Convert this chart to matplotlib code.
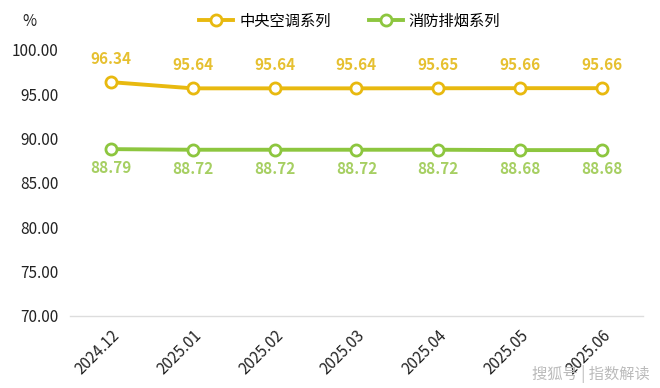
import matplotlib
matplotlib.use("Agg")
from matplotlib import pyplot as plt
import numpy as np

plt.rcParams['font.family'] = ['Noto Sans CJK SC', 'DejaVu Sans']

months = ["2024.12", "2025.01", "2025.02", "2025.03", "2025.04", "2025.05", "2025.06"]
hvac = [96.34, 95.64, 95.64, 95.64, 95.65, 95.66, 95.66]
smoke = [88.79, 88.72, 88.72, 88.72, 88.72, 88.68, 88.68]
names = ["中央空调系列", "消防排烟系列"]

orange = "#E8B90F"
green = "#8DC63F"

fig = plt.figure(figsize=(6.6, 3.88), dpi=100)
ax = fig.add_axes([0.106, 0.186, 0.868, 0.686])

x = np.arange(len(months))
ax.plot(x, hvac, color=orange, lw=2.8, marker="o", ms=8, mfc="white",
        mec=orange, mew=2, label=names[0], zorder=3)
ax.plot(x, smoke, color=green, lw=2.8, marker="o", ms=8, mfc="white",
        mec=green, mew=2, label=names[1], zorder=3)

for i in range(len(months)):
    ax.annotate(f"{hvac[i]:.2f}", (x[i], hvac[i]), xytext=(0, 11),
                textcoords="offset points", ha="center", va="bottom",
                color="#E6C030", fontsize=11, fontweight="bold")
    ax.annotate(f"{smoke[i]:.2f}", (x[i], smoke[i]), xytext=(0, -8),
                textcoords="offset points", ha="center", va="top",
                color="#A6CF62", fontsize=11, fontweight="bold")

ax.set_xlim(-0.5, len(months) - 0.5)
ax.set_ylim(70, 100)
ax.set_yticks(np.arange(70, 101, 5))
ax.set_yticklabels([f"{v:.2f}" for v in np.arange(70, 101, 5)], fontsize=11, color="#222222")
ax.set_xticks(x)
ax.set_xticklabels(months, rotation=45, ha="right", rotation_mode="anchor",
                   fontsize=11, color="#222222")
ax.tick_params(axis="both", length=0, pad=8)
for s in ["top", "right", "left"]:
    ax.spines[s].set_visible(False)
ax.spines["bottom"].set_color("#DDDDDD")
ax.spines["bottom"].set_linewidth(1)

fig.text(0.045, 0.945, "%", fontsize=11, color="#222222", ha="center", va="center")
fig.legend(loc="center", bbox_to_anchor=(0.53, 0.945), ncol=2, frameon=False,
           fontsize=11, handlelength=2.2, columnspacing=2.5, handletextpad=0.4)

fig.text(0.985, 0.035, "搜狐号 | 指数解读", fontsize=11, color="#BBBBBB",
         ha="right", va="center")

fig.savefig("out.png", dpi=100)
